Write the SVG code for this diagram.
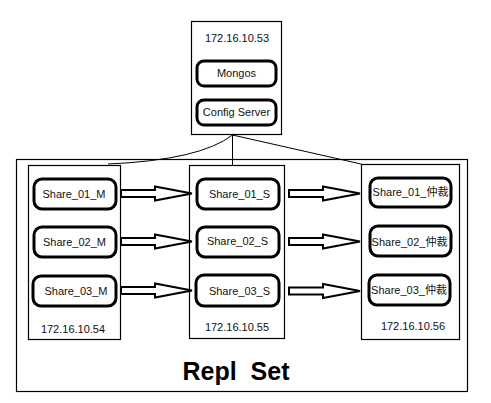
<svg xmlns="http://www.w3.org/2000/svg" width="491" height="403" viewBox="0 0 491 403">
<defs>
<style>
.box{fill:none;stroke:#000;stroke-width:1.2}
.node{fill:#fff;stroke:#000;stroke-width:3}
.t{font-family:"Liberation Sans","Noto Sans CJK SC",sans-serif;font-size:11px;fill:#111;text-anchor:middle}
.ln{fill:none;stroke:#000;stroke-width:1}
.arr{fill:#fff;stroke:#000;stroke-width:2;stroke-linejoin:miter}
.big{font-family:"Liberation Sans",sans-serif;font-size:25px;font-weight:bold;fill:#000;text-anchor:middle;white-space:pre}
</style>
<path id="arrow" class="arr" d="M0,-3.5 L34,-3.5 L34,-7 L71,0 L34,7 L34,3.5 L0,3.5 Z"/>
</defs>
<rect width="491" height="403" fill="#fff"/>
<rect class="box" x="16.5" y="159.5" width="451" height="232"/>
<g id="connectors">
<path class="ln" d="M232.5,135 Q200,160 108,164"/>
<path class="ln" d="M232.5,135 L361,164"/>
<path class="ln" d="M232.5,135 L232.5,166"/>
<use href="#arrow" x="121" y="193.5"/>
<use href="#arrow" x="121" y="241.5"/>
<use href="#arrow" x="121" y="290.5"/>
<use href="#arrow" x="289" y="193.5"/>
<use href="#arrow" x="289" y="241.5"/>
<use href="#arrow" x="289" y="291"/>
</g>
<g id="host53">
<rect class="box" x="191.5" y="21.5" width="90" height="113" fill="#fff"/>
<text class="t" x="237" y="42">172.16.10.53</text>
</g>
<g id="mongos">
<rect class="node" x="197" y="61" width="79" height="25" rx="7"/>
<text class="t" x="236.5" y="77">Mongos</text>
</g>
<g id="config">
<rect class="node" x="197" y="100" width="79" height="25" rx="7"/>
<text class="t" x="236.5" y="116">Config Server</text>
</g>
<g id="host54">
<rect class="box" x="28.5" y="165.5" width="92" height="174"/>
<text class="t" x="73" y="333">172.16.10.54</text>
</g>
<g id="host55">
<rect class="box" x="189.5" y="165.5" width="95" height="173"/>
<text class="t" x="237" y="331">172.16.10.55</text>
</g>
<g id="host56">
<rect class="box" x="361.5" y="164.5" width="98" height="175"/>
<text class="t" x="413" y="330">172.16.10.56</text>
</g>
<g id="s01m"><rect class="node" x="34" y="179" width="82" height="30" rx="8"/><text class="t" x="74" y="198">Share_01_M</text></g>
<g id="s02m"><rect class="node" x="34" y="227" width="82" height="30" rx="8"/><text class="t" x="74.5" y="246">Share_02_M</text></g>
<g id="s03m"><rect class="node" x="33" y="276" width="83" height="30" rx="8"/><text class="t" x="76" y="295">Share_03_M</text></g>
<g id="s01s"><rect class="node" x="197" y="179" width="82" height="30" rx="8"/><text class="t" x="239.5" y="198">Share_01_S</text></g>
<g id="s02s"><rect class="node" x="197" y="227" width="82" height="30" rx="8"/><text class="t" x="237.5" y="245">Share_02_S</text></g>
<g id="s03s"><rect class="node" x="196" y="275" width="83" height="31" rx="8"/><text class="t" x="239.5" y="295">Share_03_S</text></g>
<g id="s01a"><rect class="node" x="370" y="178" width="81" height="29" rx="8"/><text class="t" x="410.5" y="196">Share_01_仲裁</text></g>
<g id="s02a"><rect class="node" x="370" y="226" width="81" height="30" rx="8"/><text class="t" x="409.5" y="246">Share_02_仲裁</text></g>
<g id="s03a"><rect class="node" x="369" y="275" width="81" height="30" rx="8"/><text class="t" x="409" y="294">Share_03_仲裁</text></g>
<text class="big" x="236" y="380">Repl  Set</text>
</svg>
